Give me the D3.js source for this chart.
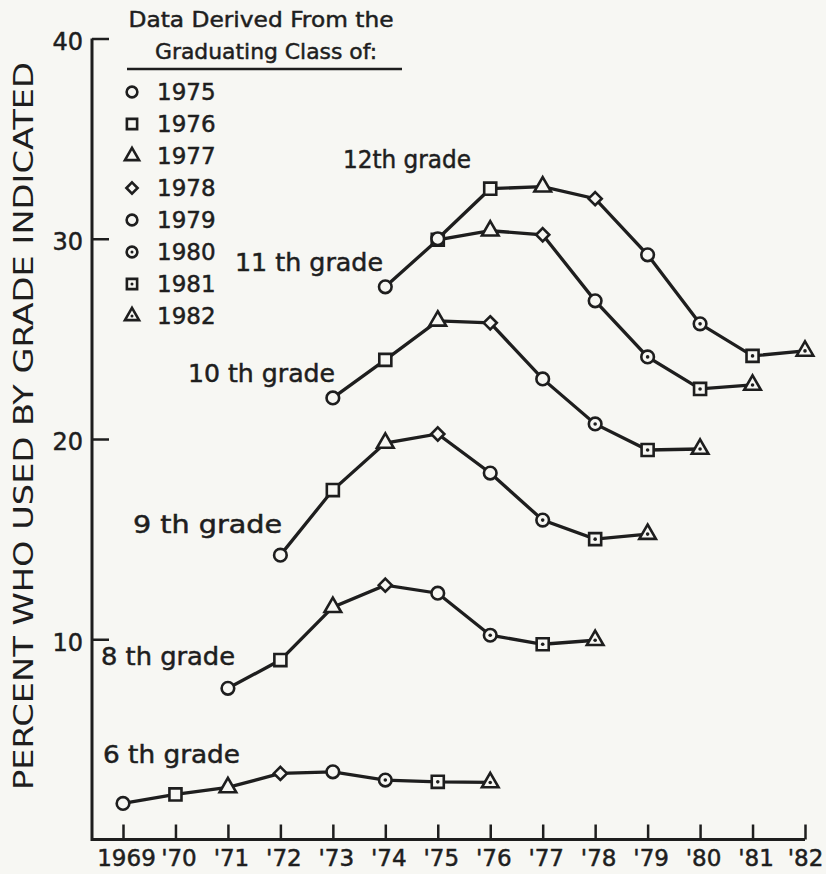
<!DOCTYPE html>
<html lang="en">
<head>
<meta charset="UTF-8">
<title>Percent who used by grade</title>
<script src="https://d3js.org/d3.v7.min.js"></script>
<style>
  body { margin: 0; background: #f7f7f3; }
  svg text { font-family: "DejaVu Sans", sans-serif; fill: #1e1e1e; stroke: #1e1e1e; stroke-width: 0.5px; }
  svg text.ytitle { stroke: none; }
</style>
</head>
<body>
<svg id="chart"></svg>
<script>
// data
const years = [1969, 1970, 1971, 1972, 1973, 1974, 1975, 1976, 1977, 1978, 1979, 1980, 1981, 1982];
const yearLabels = ["1969", "'70", "'71", "'72", "'73", "'74", "'75", "'76", "'77", "'78", "'79", "'80", "'81", "'82"];
const yTicks = [10, 20, 30, 40];
const classes = ["1975", "1976", "1977", "1978", "1979", "1980", "1981", "1982"];
const classSymbols = ["circle", "square", "triangle", "diamond", "circle", "circleDot", "squareDot", "triangleDot"];

const gradeNames = ["6 th grade", "8 th grade", "9 th grade", "10 th grade", "11 th grade", "12th grade"];
const gradeStart = [1969, 1971, 1972, 1973, 1974, 1975];
const grade6 = [1.8, 2.25, 2.6, 3.3, 3.38, 2.97, 2.88, 2.85];
const grade8 = [7.55, 8.96, 11.6, 12.7, 12.3, 10.2, 9.75, 9.95];
const grade9 = [14.2, 17.45, 19.8, 20.25, 18.3, 15.95, 15.0, 15.25];
const grade10 = [22.05, 23.95, 25.9, 25.8, 23.0, 20.75, 19.45, 19.5];
const grade11 = [27.6, 29.95, 30.4, 30.2, 26.9, 24.1, 22.5, 22.7];
const grade12 = [30.0, 32.5, 32.6, 32.0, 29.2, 25.75, 24.15, 24.4];
const gradeValues = [grade6, grade8, grade9, grade10, grade11, grade12];

const width = 826, height = 874;
const ink = "#1e1e1e", paper = "#f7f7f3";

const svg = d3.select("#chart")
    .attr("width", width)
    .attr("height", height);

const x = d3.scaleLinear().domain([1969, 1982]).range([123, 805]);
const y = d3.scaleLinear().domain([0, 40]).range([839.5, 38.5]);

// axes
const xAxis = d3.axisBottom(x)
    .tickValues(years)
    .tickFormat((d, i) => yearLabels[i])
    .tickSize(-15)
    .tickPadding(10);
const yAxis = d3.axisLeft(y)
    .tickValues(yTicks)
    .tickSize(-17)
    .tickPadding(9);

const gx = svg.append("g")
    .attr("transform", "translate(0," + y(0) + ")")
    .call(xAxis);
gx.select(".domain").remove();
gx.selectAll(".tick line").attr("stroke", ink).attr("stroke-width", 2.5);
gx.selectAll(".tick text").attr("font-size", 23).attr("fill", ink)
    .attr("dx", (d, i) => i === years.length - 1 ? 0 : 3);

const gy = svg.append("g")
    .attr("transform", "translate(92,0)")
    .call(yAxis);
gy.select(".domain").remove();
gy.selectAll(".tick line").attr("stroke", ink).attr("stroke-width", 2.5);
gy.selectAll(".tick text").attr("font-size", 24).attr("fill", ink).attr("dy", "0.45em");

svg.append("path")
    .attr("d", "M92," + y(40) + "V" + y(0) + "H" + x(1982))
    .attr("fill", "none")
    .attr("stroke", ink)
    .attr("stroke-width", 3);

// y title
svg.append("text")
    .attr("class", "ytitle")
    .attr("transform", "translate(33,426) rotate(-90)")
    .attr("text-anchor", "middle")
    .attr("font-family", "'Liberation Sans', Arial, sans-serif")
    .attr("font-size", 27)
    .attr("textLength", 728)
    .attr("lengthAdjust", "spacingAndGlyphs")
    .text("PERCENT WHO USED BY GRADE INDICATED");

// markers
function drawMarker(g, kind, s) {
    const base = kind.replace("Dot", "");
    const types = { circle: d3.symbolCircle, square: d3.symbolSquare, triangle: d3.symbolTriangle, diamond: d3.symbolDiamond2 };
    const sizes = { circle: 125, square: 145, triangle: 120, diamond: 110 };
    g.append("path")
        .attr("d", d3.symbol().type(types[base]).size(sizes[base] * s * s)())
        .attr("fill", paper)
        .attr("stroke", ink)
        .attr("stroke-width", 2.6);
    if (kind.endsWith("Dot")) {
        g.append("circle").attr("r", 1.8 * s).attr("fill", ink);
    }
}

const line = d3.line().x(d => x(d.year)).y(d => y(d.value));

gradeValues.forEach((vals, gi) => {
    const pts = vals.map((v, i) => ({ year: gradeStart[gi] + i, value: v, cls: i }));
    svg.append("path")
        .datum(pts)
        .attr("d", line)
        .attr("fill", "none")
        .attr("stroke", ink)
        .attr("stroke-width", 3.3);
    svg.selectAll(null)
        .data(pts)
        .enter()
        .append("g")
        .attr("transform", d => "translate(" + x(d.year) + "," + y(d.value) + ")")
        .each(function(d) { drawMarker(d3.select(this), classSymbols[d.cls], 1); });
});

// grade labels
const labelPos = [[103, 763], [101, 665], [133, 533], [188, 382], [235, 271], [343, 168]];
const labelWidth = [137, 134, 149, 147, 148, 128];
svg.selectAll(".glabel")
    .data(gradeNames)
    .enter()
    .append("text")
    .attr("class", "glabel")
    .attr("x", (d, i) => labelPos[i][0])
    .attr("y", (d, i) => labelPos[i][1])
    .attr("font-size", 24)
    .attr("textLength", (d, i) => labelWidth[i])
    .attr("lengthAdjust", "spacingAndGlyphs")
    .text(d => d);

// legend
svg.append("text").attr("x", 261).attr("y", 27).attr("text-anchor", "middle")
    .attr("font-size", 22).attr("textLength", 265).attr("lengthAdjust", "spacingAndGlyphs")
    .text("Data Derived From the");
svg.append("text").attr("x", 266).attr("y", 59).attr("text-anchor", "middle")
    .attr("font-size", 22).attr("textLength", 222).attr("lengthAdjust", "spacingAndGlyphs")
    .text("Graduating Class of:");
svg.append("line").attr("x1", 127).attr("x2", 402).attr("y1", 69).attr("y2", 69)
    .attr("stroke", ink).attr("stroke-width", 2.5);

const legend = svg.selectAll(".leg")
    .data(classes)
    .enter()
    .append("g")
    .attr("class", "leg")
    .attr("transform", (d, i) => "translate(132," + (92 + i * 32) + ")");
legend.each(function(d, i) { drawMarker(d3.select(this), classSymbols[i], 0.85); });
legend.append("text")
    .attr("x", 25)
    .attr("dy", "0.36em")
    .attr("font-size", 23)
    .text(d => d);
</script>
</body>
</html>
